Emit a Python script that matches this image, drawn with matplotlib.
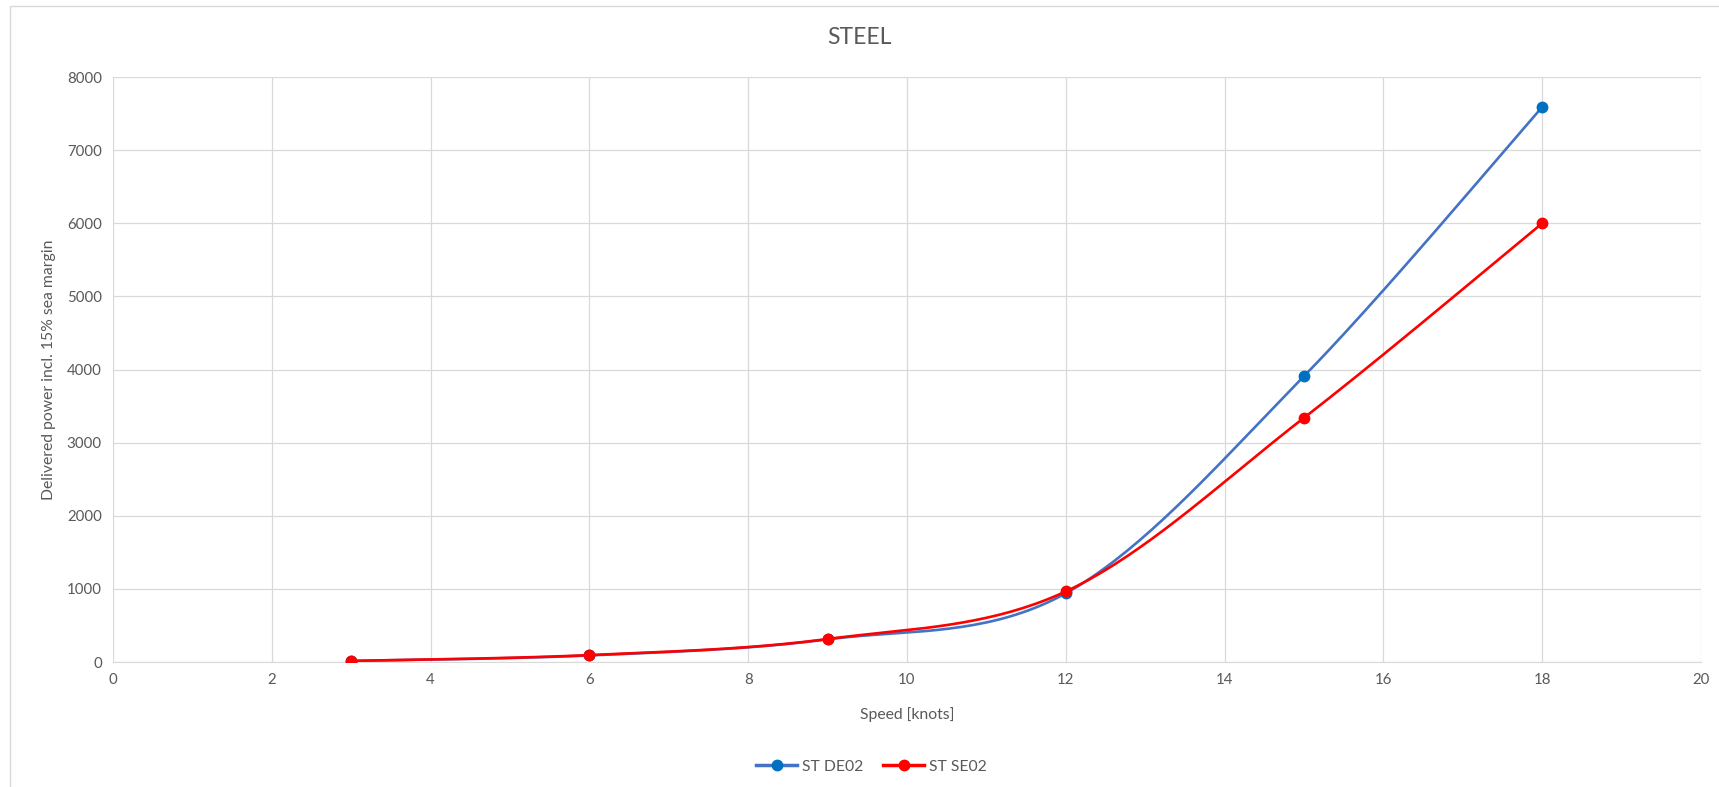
import numpy as np
import matplotlib.pyplot as plt
from matplotlib.lines import Line2D
from matplotlib.patches import Rectangle

speed = [3, 6, 9, 12, 15, 18]
st_de02 = [15, 90, 310, 940, 3910, 7590]
st_se02 = [15, 95, 315, 965, 3340, 6000]

plt.rcParams['font.family'] = ['Lato', 'DejaVu Sans']
grey = '#595959'


def smooth(x, y, n=40):
    # bezier curve through the points, like a spreadsheet "smoothed line"
    p = np.column_stack([x, y]).astype(float)
    pp = np.vstack([p[0], p, p[-1]])
    out = []
    for i in range(len(p) - 1):
        p0, p3 = p[i], p[i + 1]
        c1 = p0 + (pp[i + 2] - pp[i]) / 6
        c2 = p3 - (pp[i + 3] - pp[i + 1]) / 6
        t = np.linspace(0, 1, n)[:, None]
        seg = ((1 - t) ** 3 * p0 + 3 * (1 - t) ** 2 * t * c1
               + 3 * (1 - t) * t ** 2 * c2 + t ** 3 * p3)
        out.append(seg if i == 0 else seg[1:])
    out = np.vstack(out)
    return out[:, 0], out[:, 1]


fig = plt.figure(figsize=(17.19, 7.87), dpi=100)
ax = fig.add_axes([0.0657, 0.1588, 0.9238, 0.7432])

fig.patches.append(Rectangle((0.006, -0.1), 1.1, 1.092, transform=fig.transFigure,
                             fill=False, edgecolor='#d9d9d9', lw=1.0))

sx, sy = smooth(speed, st_de02)
ax.plot(sx, sy, color='#4472C4', lw=1.9, zorder=3)
ax.plot(speed, st_de02, 'o', color='#0070C0', ms=7.5, zorder=4)

sx, sy = smooth(speed, st_se02)
ax.plot(sx, sy, color='#FF0000', lw=1.9, zorder=5)
ax.plot(speed, st_se02, 'o', color='#FF0000', ms=7.5, zorder=6)

ax.set_xlim(0, 20)
ax.set_ylim(0, 8000)
ax.set_xticks(range(0, 21, 2))
ax.set_yticks(range(0, 8001, 1000))
ax.grid(True, color='#d9d9d9', lw=0.9)
ax.set_axisbelow(True)
for s in ['top', 'right', 'left']:
    ax.spines[s].set_visible(False)
ax.spines['bottom'].set_color('#d9d9d9')
ax.tick_params(length=0, labelsize=10.8, colors=grey, pad=8)

ax.set_xlabel('Speed [knots]', fontsize=11.3, color=grey, labelpad=14)
ax.set_ylabel('Delivered power incl. 15% sea margin', fontsize=11.3, color=grey, labelpad=8)
fig.text(0.5, 0.952, 'STEEL', ha='center', va='center', fontsize=16.5, color=grey)

handles = [Line2D([], [], color='#4472C4', lw=2.5, marker='o', ms=7.5,
                  mfc='#0070C0', mec='#0070C0'),
           Line2D([], [], color='#FF0000', lw=2.5, marker='o', ms=7.5)]
fig.legend(handles, ['ST DE02', 'ST SE02'], loc='center', bbox_to_anchor=(0.507, 0.026),
           ncol=2, frameon=False, fontsize=11.3, labelcolor=grey,
           handlelength=2.6, columnspacing=1.3, handletextpad=0.3)

fig.savefig('out.png', dpi=100)
